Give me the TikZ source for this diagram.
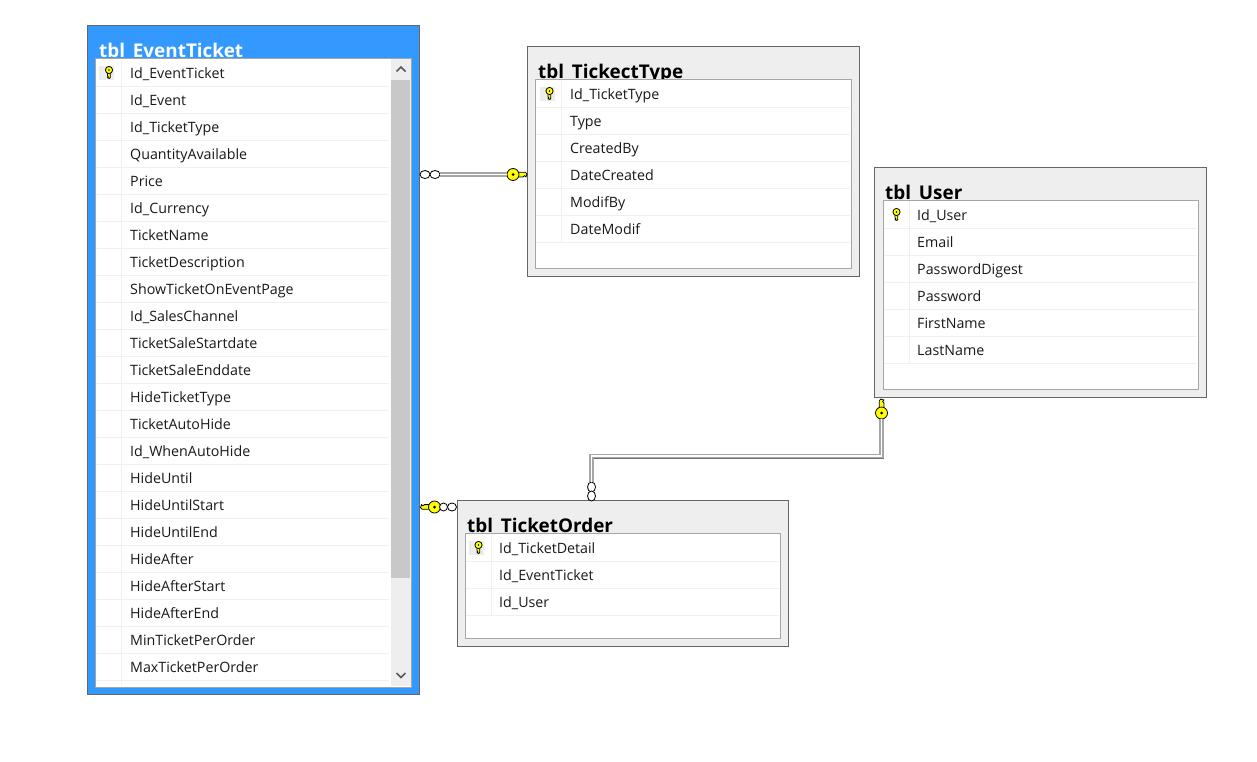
\documentclass[tikz,border=0pt]{standalone}
\usepackage{fontspec}
\setmainfont{Open Sans}
\usetikzlibrary{shapes.geometric}
\definecolor{selblue}{HTML}{3399FF}
\definecolor{panel}{HTML}{EEEEEE}
\definecolor{rowrule}{HTML}{F0F0F0}
\definecolor{thumb}{HTML}{C8C8C8}
\definecolor{keyyellow}{HTML}{FFFF00}

\begin{document}
\begin{tikzpicture}[x=1pt, y=-1pt]

\tikzset{
tablebox/.style = {rectangle, draw = black!60, line width = 1pt, anchor = north west, inner sep = 0pt, fill = panel},
listbox/.style = {rectangle, draw = black!35, line width = 1pt, anchor = north west, inner sep = 0pt, fill = white},
title/.style = {anchor = base west, inner sep = 0pt, font = \fontsize{18.9}{20}\selectfont\bfseries},
field/.style = {anchor = west, inner sep = 0pt, yshift = -1.5pt, text height = 11pt, text depth = 3pt, text = black!90, font = \fontsize{14.25}{16}\selectfont},
rowline/.style = {draw = rowrule, line width = 1pt},
keymark/.style = {fill = black!7, inner sep = 0pt, minimum width = 15pt, minimum height = 14pt},
oneline/.style = {draw = black!35, double = white, line width = 1.5pt, double distance = 1.7pt, preaction = {draw = black!55, line width = 4.7pt, transform canvas = {shift = {(0.6pt, -0.6pt)}}}},
many/.style = {ellipse, draw, fill = white, line width = 0.8pt, inner sep = 0pt, minimum width = 10pt, minimum height = 8pt},
manyup/.style = {many, minimum width = 8pt, minimum height = 10pt},
chevron/.style = {draw = black!65, line width = 1.5pt},
keyicon/.pic = {
  \filldraw [fill = keyyellow, draw = black, line width = 0.8pt] (4, -2.2) -- (12.5, -2.2) -- (14, -0.5) -- (13, 2.4) -- (11.5, 1.2) -- (10, 2.4) -- (4, 2.4) -- cycle;
  \node [circle, draw = black, fill = keyyellow, line width = 0.8pt, inner sep = 0pt, minimum size = 12pt, transform shape] (-head) at (0, 0) {};
  \fill (0, 0) circle (1.5);
},
}

\useasboundingbox (0, 0) rectangle (1257, 761);

% Tables
\node at (87, 25) [tablebox, fill = selblue, minimum width = 332pt, minimum height = 669pt] (EventTicket) {};
\node at (99, 57) [title, text = white] (EventTicketTitle) {tbl\_EventTicket};
\node at (95, 58) [listbox, minimum width = 316pt, minimum height = 628.5pt] (EventTicketList) {};

\node at (527, 46) [tablebox, minimum width = 332pt, minimum height = 230pt] (TicketType) {};
\node at (538, 78) [title] (TicketTypeTitle) {tbl\_TickectType};
\node at (535, 79) [listbox, minimum width = 316pt, minimum height = 189pt] (TicketTypeList) {};

\node at (874, 167) [tablebox, minimum width = 332pt, minimum height = 230pt] (User) {};
\node at (885, 199) [title] (UserTitle) {tbl\_User};
\node at (883, 200) [listbox, minimum width = 315pt, minimum height = 189pt] (UserList) {};

\node at (456.5, 500) [tablebox, minimum width = 331.5pt, minimum height = 146pt] (TicketOrder) {};
\node at (467, 532) [title] (TicketOrderTitle) {tbl\_TicketOrder};
\node at (465, 533) [listbox, minimum width = 315pt, minimum height = 105pt] (TicketOrderList) {};

% Fields
\draw [rowline] (121.5, 60) -- (121.5, 685);
\foreach \f [count = \i from 0] in {Id\_EventTicket, Id\_Event, Id\_TicketType, QuantityAvailable, Price, Id\_Currency, TicketName, TicketDescription, ShowTicketOnEventPage, Id\_SalesChannel, TicketSaleStartdate, TicketSaleEnddate, HideTicketType, TicketAutoHide, Id\_WhenAutoHide, HideUntil, HideUntilStart, HideUntilEnd, HideAfter, HideAfterStart, HideAfterEnd, MinTicketPerOrder, MaxTicketPerOrder} {
  \draw [rowline] (96, {86.5 + 27 * \i}) -- (389, {86.5 + 27 * \i});
  \node at (130, {72.5 + 27 * \i}) [field] (EventTicket\i) {\f};
}

\draw [rowline] (561.5, 80) -- (561.5, 242.5);
\foreach \f [count = \i from 0] in {Id\_TicketType, Type, CreatedBy, DateCreated, ModifBy, DateModif} {
  \draw [rowline] (536, {107.5 + 27 * \i}) -- (850, {107.5 + 27 * \i});
  \node at (570, {94 + 27 * \i}) [field] (TicketType\i) {\f};
}

\draw [rowline] (909.5, 201) -- (909.5, 363.5);
\foreach \f [count = \i from 0] in {Id\_User, Email, PasswordDigest, Password, FirstName, LastName} {
  \draw [rowline] (884, {228.5 + 27 * \i}) -- (1197, {228.5 + 27 * \i});
  \node at (917, {215 + 27 * \i}) [field] (User\i) {\f};
}

\draw [rowline] (491.5, 534) -- (491.5, 615.5);
\foreach \f [count = \i from 0] in {Id\_TicketDetail, Id\_EventTicket, Id\_User} {
  \draw [rowline] (466, {561.5 + 27 * \i}) -- (779, {561.5 + 27 * \i});
  \node at (499, {548 + 27 * \i}) [field] (TicketOrder\i) {\f};
}

% Scrollbar
\fill [panel] (390.5, 59) rectangle (410.5, 685.5);
\fill [thumb] (391, 80) rectangle (410, 578);
\draw [chevron] (396.5, 71.5) -- (401, 67) -- (405.5, 71.5);
\draw [chevron] (396.5, 673) -- (401, 677.5) -- (405.5, 673);

% Key marks
\node at (106.5, 73) [keymark] (EventTicketMark) {};
\node at (547, 94) [keymark] (TicketTypeMark) {};
\node at (476, 548) [keymark] (TicketOrderMark) {};
\pic [scale = 0.6, rotate = -90] at (109, 70) {keyicon};
\pic [scale = 0.6, rotate = -90] at (549.5, 91) {keyicon};
\pic [scale = 0.6, rotate = -90] at (896.5, 212) {keyicon};
\pic [scale = 0.6, rotate = -90] at (478.5, 545) {keyicon};

% Relations
\pic (TypeKey) at (513, 174.5) {keyicon};
\pic [rotate = 180] (OrderKey) at (434.5, 507) {keyicon};
\pic [rotate = 90] (UserKey) at (881.5, 413) {keyicon};

\node at (425, 174.5) [many] (TypeManyA) {};
\node at (435, 174.5) [many] (TypeManyB) {};
\node at (443.5, 507) [many, minimum width = 8pt] (OrderManyA) {};
\node at (452, 507) [many, minimum width = 9pt] (OrderManyB) {};
\node at (591.5, 487) [manyup] (UserManyA) {};
\node at (591.5, 496) [manyup] (UserManyB) {};
\coordinate (UserBend) at (591.5, 456);

\draw [oneline] (TypeManyB) -- (TypeKey-head);
\draw [oneline] (UserKey-head) |- (UserBend) -- (UserManyA);

\end{tikzpicture}
\end{document}
